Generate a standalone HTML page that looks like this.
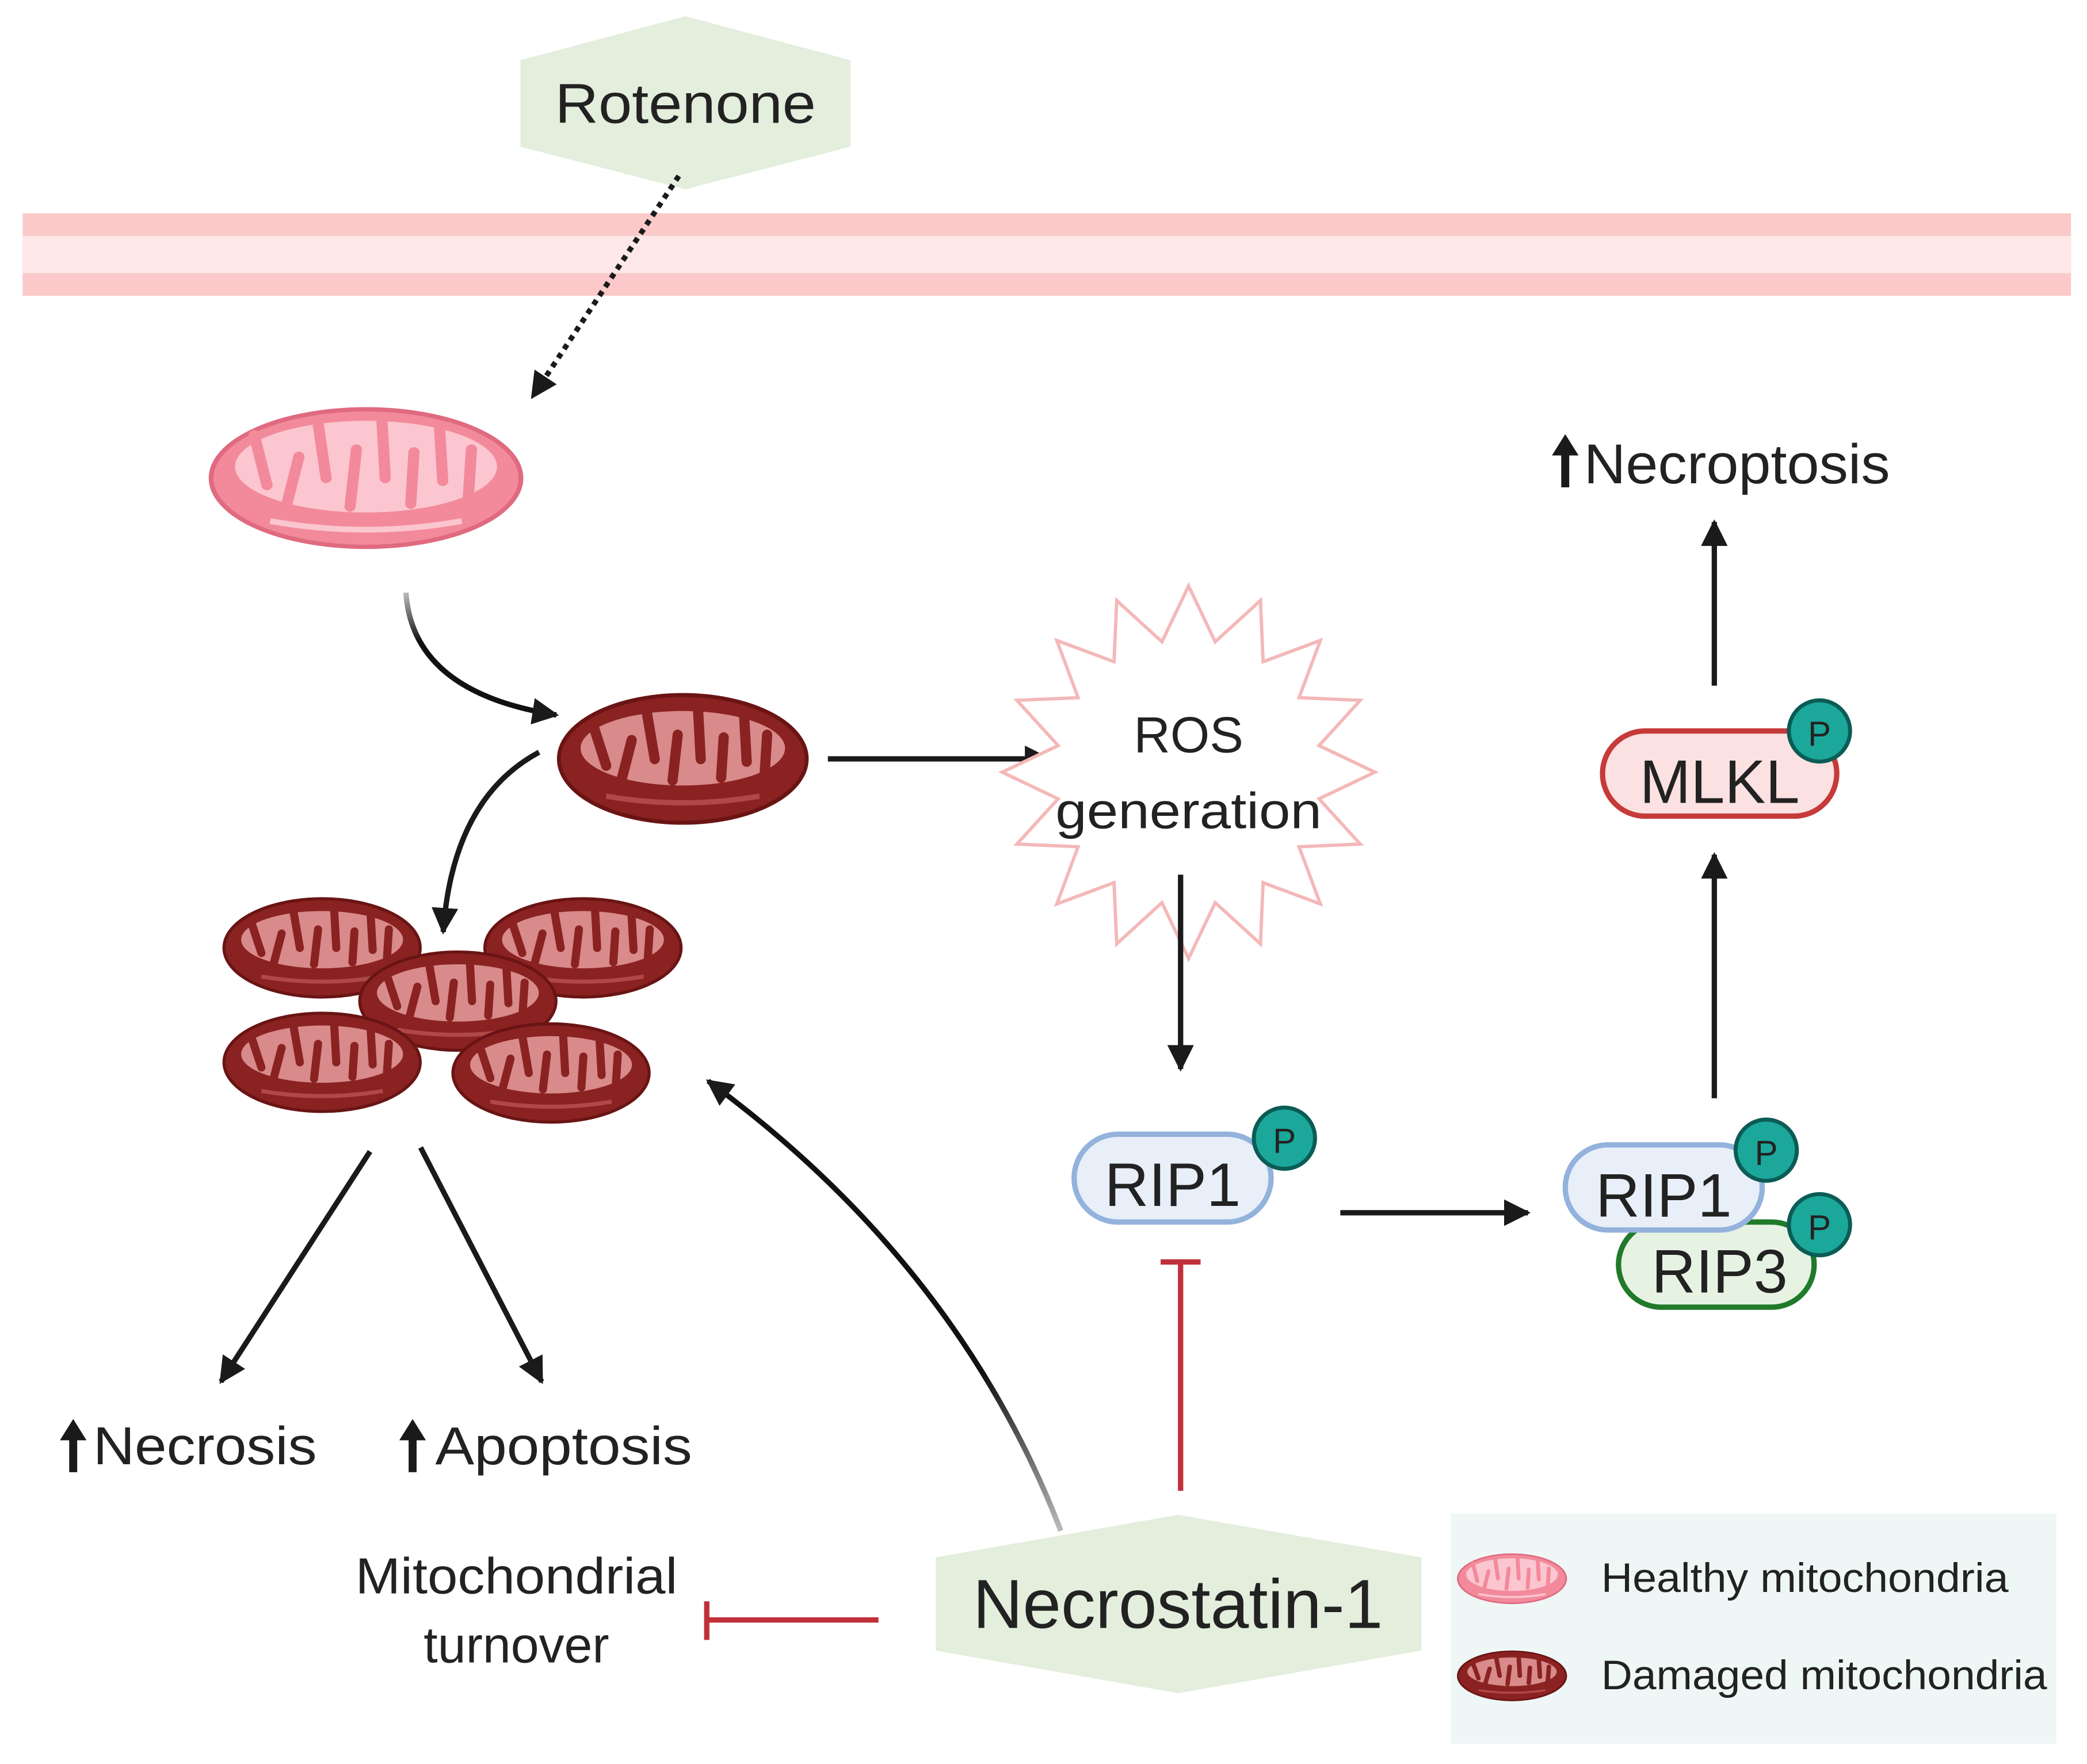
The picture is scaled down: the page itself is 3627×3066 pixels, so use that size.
<!DOCTYPE html>
<html><head><meta charset="utf-8"><style>
html,body{margin:0;padding:0;background:#fff;}
svg{display:block;}
text{font-family:"Liberation Sans","DejaVu Sans",sans-serif;fill:#222;}
</style></head><body>
<svg width="3627" height="3066" viewBox="0 0 1568 1325" xmlns="http://www.w3.org/2000/svg">
<defs>
<marker id="ah" viewBox="0 0 10 10" refX="9" refY="5" markerWidth="5" markerHeight="5" orient="auto" markerUnits="strokeWidth">
<path d="M0,0 L10,5 L0,10 z" fill="#1a1a1a"/></marker>
<linearGradient id="fadeg" x1="0" y1="1" x2="0" y2="0"><stop offset="0" stop-color="#bbb"/><stop offset="0.35" stop-color="#111"/></linearGradient>
<linearGradient id="fadeg2" x1="0" y1="0" x2="0" y2="1"><stop offset="0" stop-color="#bbb"/><stop offset="0.4" stop-color="#111"/></linearGradient>
<symbol id="hm" viewBox="-100 -52 200 104" preserveAspectRatio="none">
<ellipse cx="0" cy="0" rx="97" ry="48" fill="#f28a9b" stroke="#e06a80" stroke-width="3"/>
<ellipse cx="0" cy="-8" rx="82" ry="32" fill="#fbc6cf"/>
<g stroke="#f28a9b" stroke-width="7" stroke-linecap="round" fill="none">
<path d="M-70,-30 L-62,5"/><path d="M-50,20 L-42,-15"/><path d="M-30,-38 L-25,0"/><path d="M-10,20 L-6,-20"/><path d="M10,-40 L12,0"/><path d="M28,18 L30,-18"/><path d="M46,-36 L48,2"/><path d="M64,14 L66,-20"/>
</g>
<path d="M-60,30 Q0,42 60,30" stroke="#fbc6cf" stroke-width="4" fill="none"/>
</symbol>
<symbol id="dm" viewBox="-100 -52 200 104" preserveAspectRatio="none">
<ellipse cx="0" cy="0" rx="97" ry="48" fill="#8a2222" stroke="#6a1414" stroke-width="3"/>
<ellipse cx="0" cy="-8" rx="80" ry="28" fill="#d98a8a"/>
<g stroke="#8a2222" stroke-width="8" stroke-linecap="round" fill="none">
<path d="M-70,-25 L-60,5"/><path d="M-48,16 L-40,-14"/><path d="M-28,-34 L-22,0"/><path d="M-8,16 L-4,-18"/><path d="M12,-36 L14,0"/><path d="M30,14 L32,-16"/><path d="M48,-32 L50,2"/><path d="M64,12 L66,-18"/>
</g>
<path d="M-60,28 Q0,38 60,28" stroke="#b04848" stroke-width="4" fill="none"/>
</symbol>
<symbol id="up" viewBox="0 0 20 40" preserveAspectRatio="none">
<path d="M10,0 L20,16 L13,16 L13,40 L7,40 L7,16 L0,16 z" fill="#1a1a1a"/>
</symbol>
</defs>

<!-- membrane -->
<rect x="17" y="160" width="1539" height="62" fill="#fbc9c9"/>
<rect x="17" y="177" width="1539" height="28" fill="#fde7e7"/>

<!-- Rotenone -->
<polygon points="391,45 515,12 639,45 639,110 515,142 391,110" fill="#e3eedd"/>
<text x="515" y="92" font-size="42" text-anchor="middle" textLength="196" lengthAdjust="spacingAndGlyphs">Rotenone</text>
<line x1="510" y1="132" x2="400" y2="298" stroke="#1a1a1a" stroke-width="4" stroke-dasharray="4,4" marker-end="url(#ah)"/>

<!-- healthy mito -->
<use href="#hm" x="155" y="303" width="240" height="112"/>
<path d="M305,445 Q310,520 418,537" stroke="url(#fadeg2)" stroke-width="4" fill="none" marker-end="url(#ah)"/>

<!-- damaged mito -->
<use href="#dm" x="417" y="518" width="192" height="104"/>
<path d="M405,565 Q340,600 333,700" stroke="#1a1a1a" stroke-width="4" fill="none" marker-end="url(#ah)"/>
<line x1="622" y1="570" x2="788" y2="570" stroke="#1a1a1a" stroke-width="4" marker-end="url(#ah)"/>

<!-- cluster -->
<use href="#dm" x="166" y="672" width="152" height="80"/>
<use href="#dm" x="362" y="672" width="152" height="80"/>
<use href="#dm" x="268" y="712" width="152" height="80"/>
<use href="#dm" x="166" y="758" width="152" height="80"/>
<use href="#dm" x="338" y="766" width="152" height="80"/>

<line x1="278" y1="865" x2="166" y2="1038" stroke="#1a1a1a" stroke-width="4" marker-end="url(#ah)"/>
<line x1="316" y1="862" x2="407" y2="1038" stroke="#1a1a1a" stroke-width="4" marker-end="url(#ah)"/>
<use href="#up" x="45" y="1066" width="20" height="40"/>
<text x="70" y="1100" font-size="40" textLength="168" lengthAdjust="spacingAndGlyphs">Necrosis</text>
<use href="#up" x="300" y="1066" width="20" height="40"/>
<text x="327" y="1100" font-size="40" textLength="193" lengthAdjust="spacingAndGlyphs">Apoptosis</text>

<!-- ROS -->
<polygon points="1033,580 991,600 1022,634 976,636 992,679 949,663 947,709 913,678 893,720 873,678 839,709 837,663 794,679 810,636 764,634 795,600 753,580 795,560 764,526 810,524 794,481 837,497 839,451 873,482 893,440 913,482 947,451 949,497 992,481 976,524 1022,526 991,560" fill="#fff" stroke="#f4b8b8" stroke-width="2.5"/>
<text x="893" y="565" font-size="38" text-anchor="middle">ROS</text>
<text x="893" y="622" font-size="38" text-anchor="middle" textLength="200" lengthAdjust="spacingAndGlyphs">generation</text>
<line x1="887" y1="657" x2="887" y2="803" stroke="#1a1a1a" stroke-width="4" marker-end="url(#ah)"/>

<!-- RIP1 -->
<rect x="807" y="852" width="148" height="66" rx="33" fill="#e8eff9" stroke="#93b2dc" stroke-width="4"/>
<text x="881" y="906" font-size="46" text-anchor="middle">RIP1</text>
<circle cx="965" cy="855" r="23" fill="#1ba89b" stroke="#0b5c56" stroke-width="3"/>
<text x="965" y="866" font-size="26" text-anchor="middle">P</text>
<line x1="1007" y1="911" x2="1148" y2="911" stroke="#1a1a1a" stroke-width="4" marker-end="url(#ah)"/>

<!-- RIP1/RIP3 -->
<rect x="1216" y="918" width="147" height="64" rx="32" fill="#e6f3e3" stroke="#1f7a2a" stroke-width="4"/>
<text x="1292" y="971" font-size="46" text-anchor="middle">RIP3</text>
<rect x="1176" y="860" width="148" height="64" rx="32" fill="#e8eff9" stroke="#93b2dc" stroke-width="4"/>
<text x="1250" y="914" font-size="46" text-anchor="middle">RIP1</text>
<circle cx="1327" cy="864" r="23" fill="#1ba89b" stroke="#0b5c56" stroke-width="3"/>
<text x="1327" y="875" font-size="26" text-anchor="middle">P</text>
<circle cx="1367" cy="920" r="23" fill="#1ba89b" stroke="#0b5c56" stroke-width="3"/>
<text x="1367" y="931" font-size="26" text-anchor="middle">P</text>
<line x1="1288" y1="825" x2="1288" y2="642" stroke="#1a1a1a" stroke-width="4" marker-end="url(#ah)"/>

<!-- MLKL -->
<rect x="1204" y="549" width="176" height="64" rx="32" fill="#fbe1e1" stroke="#c63a3a" stroke-width="4"/>
<text x="1292" y="603" font-size="46" text-anchor="middle">MLKL</text>
<circle cx="1367" cy="549" r="23" fill="#1ba89b" stroke="#0b5c56" stroke-width="3"/>
<text x="1367" y="560" font-size="26" text-anchor="middle">P</text>
<line x1="1288" y1="515" x2="1288" y2="392" stroke="#1a1a1a" stroke-width="4" marker-end="url(#ah)"/>
<use href="#up" x="1166" y="326" width="20" height="40"/>
<text x="1190" y="363" font-size="42" textLength="230" lengthAdjust="spacingAndGlyphs">Necroptosis</text>

<!-- Necrostatin -->
<path d="M797,1150 Q720,950 532,812" stroke="url(#fadeg)" stroke-width="4" fill="none" marker-end="url(#ah)"/>
<line x1="887" y1="1120" x2="887" y2="948" stroke="#c0303a" stroke-width="4"/>
<line x1="872" y1="948" x2="902" y2="948" stroke="#c0303a" stroke-width="4"/>
<polygon points="703,1170 885,1138 1068,1170 1068,1240 885,1272 703,1240" fill="#e3eedd"/>
<text x="885" y="1223" font-size="52" text-anchor="middle" textLength="308" lengthAdjust="spacingAndGlyphs">Necrostatin-1</text>
<line x1="660" y1="1217" x2="531" y2="1217" stroke="#c0303a" stroke-width="4"/>
<line x1="531" y1="1203" x2="531" y2="1232" stroke="#c0303a" stroke-width="4"/>
<text x="388" y="1197" font-size="38" text-anchor="middle" textLength="242" lengthAdjust="spacingAndGlyphs">Mitochondrial</text>
<text x="388" y="1249" font-size="38" text-anchor="middle">turnover</text>

<!-- Legend -->
<rect x="1090" y="1137" width="455" height="173" fill="#eef7f5"/>
<use href="#hm" x="1094" y="1166" width="84" height="40"/>
<use href="#dm" x="1094" y="1239" width="84" height="40"/>
<text x="1203" y="1196" font-size="31" textLength="306" lengthAdjust="spacingAndGlyphs">Healthy mitochondria</text>
<text x="1203" y="1269" font-size="31" textLength="335" lengthAdjust="spacingAndGlyphs">Damaged mitochondria</text>
</svg>
</body></html>
